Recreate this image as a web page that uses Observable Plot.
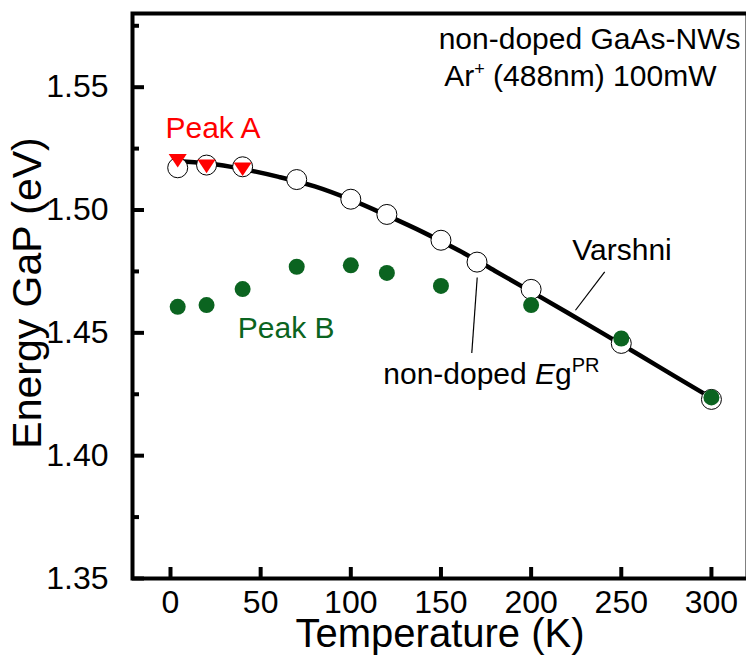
<!DOCTYPE html>
<html>
<head>
<meta charset="utf-8">
<script src="https://cdn.jsdelivr.net/npm/d3@7"></script>
<script src="https://cdn.jsdelivr.net/npm/@observablehq/plot@0.6"></script>
<style>
  html, body { margin: 0; padding: 0; background: #fff; }
  svg text { white-space: pre; }
</style>
</head>
<body>
<div id="chart"></div>
<script>
// ---- data ----
const egTemps = [4, 20, 40, 70, 100, 120, 150, 170, 200, 250, 300];
const egPR    = [1.5172, 1.5183, 1.5176, 1.5124, 1.5044, 1.4982, 1.4877, 1.4788, 1.4677, 1.4457, 1.4229];

const peakATemps = [4, 20, 40];
const peakAVals  = [1.5210, 1.5187, 1.5175];

const peakBTemps = [4, 20, 40, 70, 100, 120, 150, 200, 250, 300];
const peakBVals  = [1.4606, 1.4613, 1.4678, 1.4769, 1.4775, 1.4744, 1.4691, 1.4613, 1.4477, 1.4237];

const varshniTemps = [4, 20, 40, 60, 80, 100, 120, 140, 160, 180, 200, 220, 240, 260, 280, 300];
const varshniVals  = [1.5200, 1.5190, 1.5167, 1.5135, 1.5096, 1.5042, 1.4978, 1.4910, 1.4835, 1.4752, 1.4668, 1.4583, 1.4497, 1.4410, 1.4322, 1.4235];

const xTicks = [0, 50, 100, 150, 200, 250, 300];
const yTicks = [1.35, 1.40, 1.45, 1.50, 1.55];
const yMinorTicks = [1.375, 1.425, 1.475, 1.525, 1.575];
const xDomain = [-21.07, 320];
const yDomain = [1.35, 1.58];

const xTitle = ["Temperature (K)"];
const yTitle = ["Energy GaP (eV)"];

// annotations anchored at their start (left end of the text baseline)
const leftLabelTexts = ["Peak A", "Peak B", "Varshni", "non-doped EgPR"];
const leftLabelX     = [-2.8, 37.3, 222.8, 118.0];
const leftLabelY     = [1.5295, 1.4480, 1.4798, 1.4293];
const leftLabelColor = ["#ff0000", "#0b6420", "black", "black"];

// annotations anchored at their end (top-right notes)
const rightLabelTexts = ["non-doped GaAs-NWs", "Ar+ (488nm) 100mW"];
const rightLabelX     = [316.1, 302.8];
const rightLabelY     = [1.5657, 1.5505];

// leader lines
const leaderX1 = [170.1, 240.8];
const leaderY1 = [1.4725, 1.4748];
const leaderX2 = [167.1, 224.6];
const leaderY2 = [1.4418, 1.4592];

// ---- build tables ----
const egData = egTemps.map((t, i) => ({t, e: egPR[i]}));
const peakA = peakATemps.map((t, i) => ({t, e: peakAVals[i]}));
const peakB = peakBTemps.map((t, i) => ({t, e: peakBVals[i]}));
const varshni = varshniTemps.map((t, i) => ({t, e: varshniVals[i]}));
const leftLabels = leftLabelTexts.map((s, i) => ({s, x: leftLabelX[i], y: leftLabelY[i], c: leftLabelColor[i]}));
const rightLabels = rightLabelTexts.map((s, i) => ({s, x: rightLabelX[i], y: rightLabelY[i]}));
const leaders = leaderX1.map((x1, i) => ({x1, y1: leaderY1[i], x2: leaderX2[i], y2: leaderY2[i]}));

const triangleDown = {
  draw(ctx, size) {
    const s = Math.sqrt(size / Math.PI);
    ctx.moveTo(0, 1.35 * s);
    ctx.lineTo(-1.35 * s, -0.67 * s);
    ctx.lineTo(1.35 * s, -0.67 * s);
    ctx.closePath();
  }
};

const font = "'Liberation Sans', Arial, Helvetica, sans-serif";

const chart = Plot.plot({
  width: 746,
  height: 658,
  marginLeft: 132,
  marginRight: -1,
  marginTop: 13,
  marginBottom: 80,
  style: {fontFamily: font, fontSize: "32px", color: "black", background: "white", overflow: "visible"},
  x: {domain: xDomain},
  y: {domain: yDomain},
  marks: [
    Plot.axisX({ticks: xTicks, tickSize: 0, tickPadding: 12, label: null, fontSize: 32, tickFormat: d3.format("d")}),
    Plot.axisY({ticks: yTicks, tickSize: 0, tickPadding: 24, label: null, fontSize: 32, tickFormat: d3.format(".2f")}),
    // inward ticks
    Plot.ruleX(xTicks, {x: d => d, y1: () => yDomain[0], y2: () => yDomain[0], insetTop: -11, stroke: "black", strokeWidth: 4}),
    Plot.ruleY(yTicks, {y: d => d, x1: () => xDomain[0], x2: () => xDomain[0], insetRight: -12, stroke: "black", strokeWidth: 4}),
    Plot.ruleY(yMinorTicks, {y: d => d, x1: () => xDomain[0], x2: () => xDomain[0], insetRight: -7, stroke: "black", strokeWidth: 4}),
    // leader lines
    Plot.link(leaders, {x1: "x1", y1: "y1", x2: "x2", y2: "y2", stroke: "black", strokeWidth: 1.2}),
    // Varshni curve
    Plot.line(varshni, {x: "t", y: "e", stroke: "black", strokeWidth: 4.5, curve: "monotone-x"}),
    // Eg PR open circles
    Plot.dot(egData, {x: "t", y: "e", r: 10, fill: "white", stroke: "black", strokeWidth: 1}),
    // Peak B
    Plot.dot(peakB, {x: "t", y: "e", r: 8, fill: "#0b6420", stroke: "none"}),
    // Peak A
    Plot.dot(peakA, {x: "t", y: "e", r: 6.7, symbol: triangleDown, fill: "#ff0000", stroke: "none"}),
    // annotations
    Plot.text(leftLabels, {x: "x", y: "y", text: "s", fill: "c", textAnchor: "start", lineAnchor: "bottom", fontSize: 30}),
    Plot.text(rightLabels, {x: "x", y: "y", text: "s", fill: "black", textAnchor: "end", lineAnchor: "bottom", fontSize: 30}),
    // axis titles
    Plot.text(xTitle, {text: d => d, frameAnchor: "bottom", textAnchor: "middle", dy: 68, lineAnchor: "bottom", fontSize: 40}),
    Plot.text(yTitle, {text: d => d, frameAnchor: "left", textAnchor: "middle", dx: -92, dy: -3, rotate: -90, lineAnchor: "bottom", fontSize: 41}),
    Plot.frame({stroke: "black", strokeWidth: 4})
  ]
});

document.getElementById("chart").appendChild(chart);

// rich text: superscripts / italics
d3.select(chart).selectAll("text").each(function() {
  const el = d3.select(this);
  const t = this.textContent;
  if (t === "non-doped EgPR") {
    el.text(null);
    el.append("tspan").text("non-doped ");
    el.append("tspan").attr("font-style", "italic").text("E");
    el.append("tspan").text("g");
    el.append("tspan").attr("font-size", 20).attr("dy", -12).text("PR");
  } else if (t === "Ar+ (488nm) 100mW") {
    el.text(null);
    el.append("tspan").text("Ar");
    el.append("tspan").attr("font-size", 18).attr("dy", -11).text("+");
    el.append("tspan").attr("dy", 11).text(" (488nm) 100mW");
  }
});
</script>
</body>
</html>
